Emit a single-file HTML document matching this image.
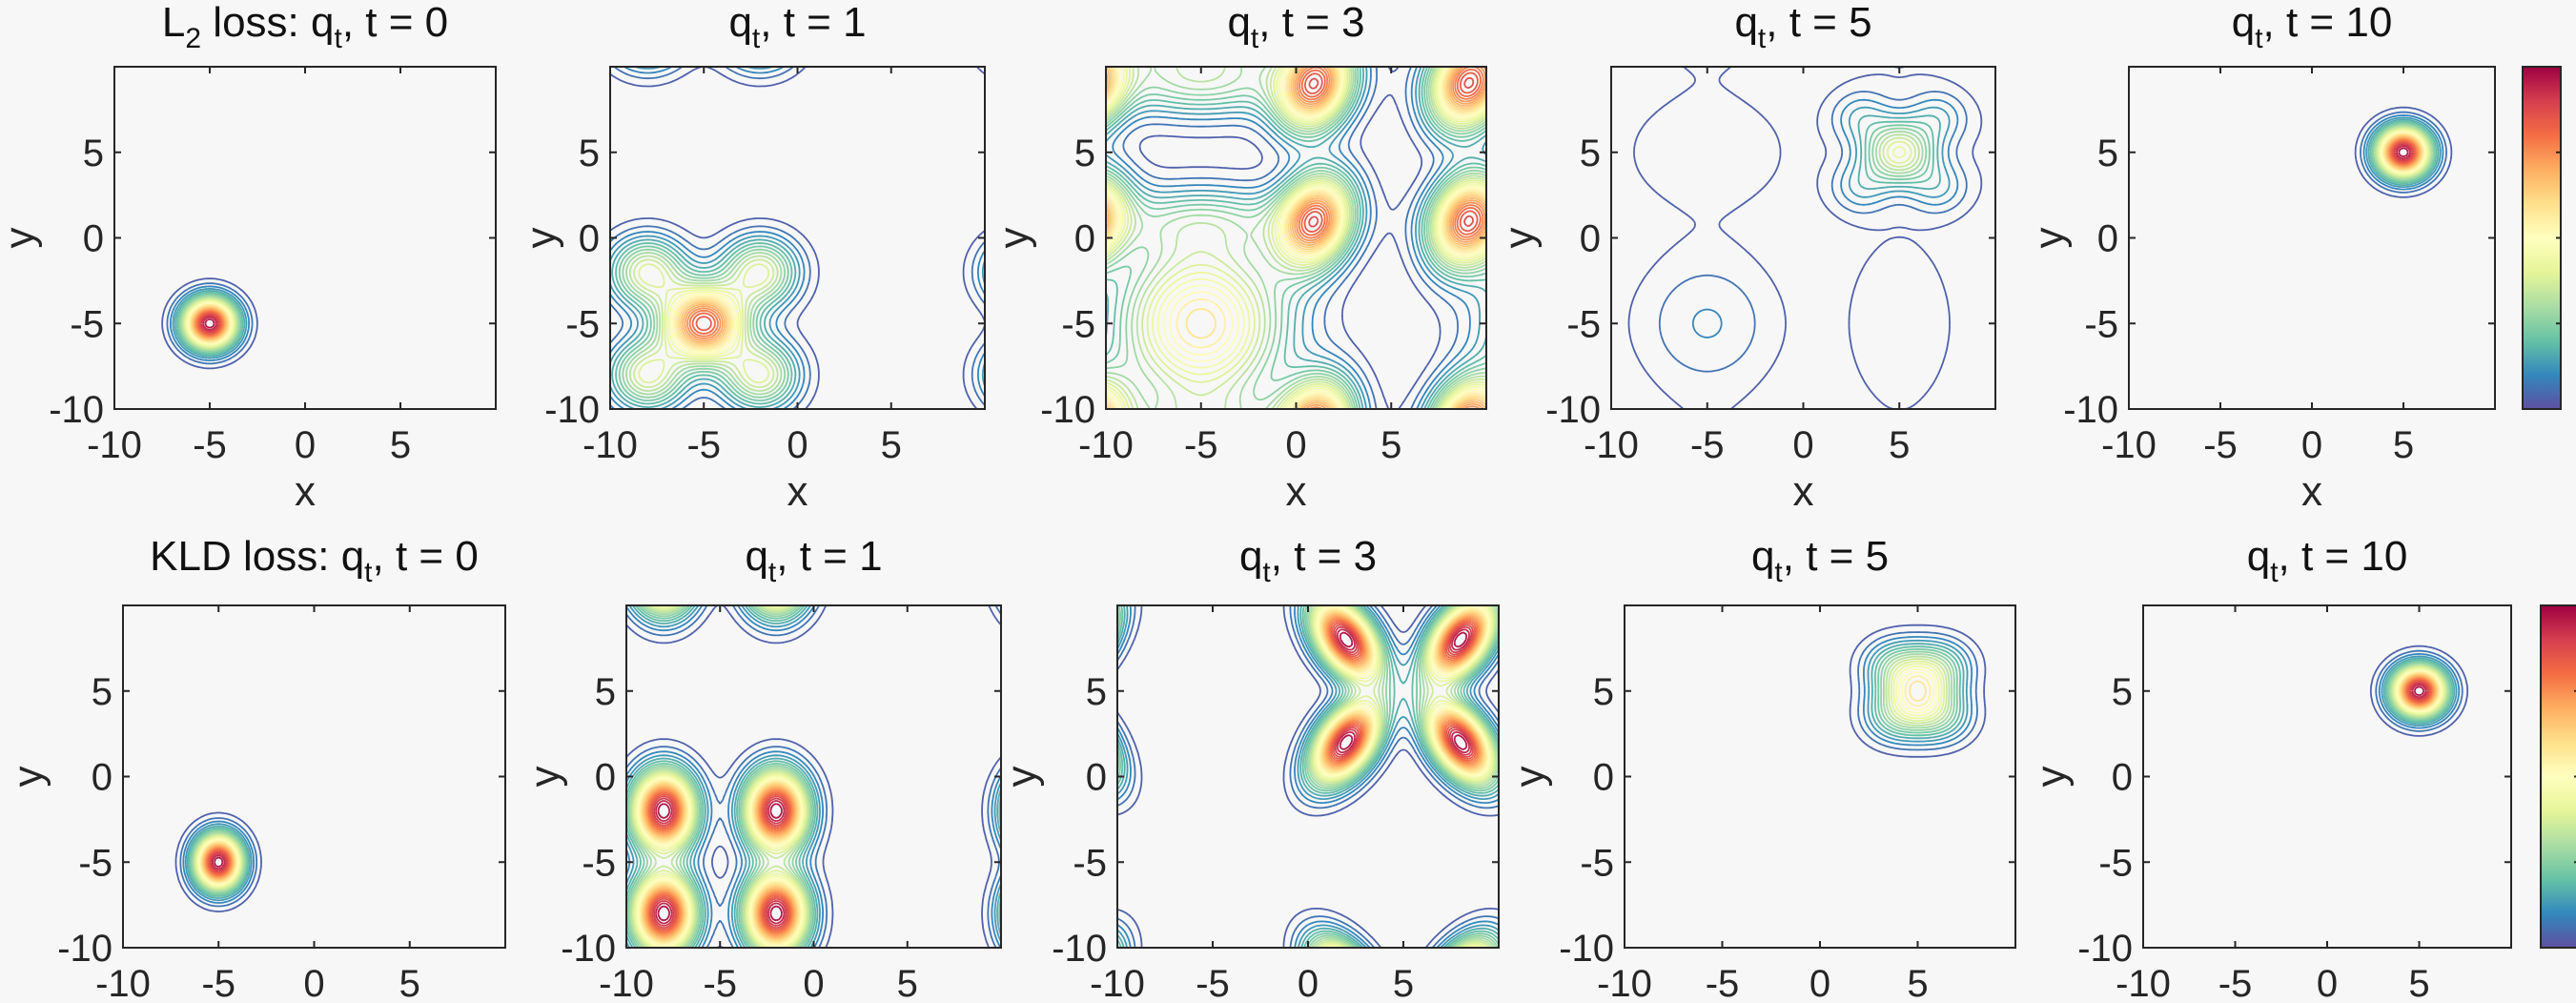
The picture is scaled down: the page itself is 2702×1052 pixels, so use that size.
<!DOCTYPE html>
<html><head><meta charset="utf-8">
<style>
html,body{margin:0;padding:0;background:#f7f7f7;}
svg{display:block;font-family:"Liberation Sans",Arial,sans-serif;}
</style></head>
<body>
<svg id="fig" width="2702" height="1052" viewBox="0 0 2702 1052" xmlns="http://www.w3.org/2000/svg">
<defs>
<linearGradient id="spec" x1="0" y1="1" x2="0" y2="0">
<stop offset="0" stop-color="#5e4fa2"/><stop offset="0.1" stop-color="#3288bd"/><stop offset="0.2" stop-color="#66c2a5"/><stop offset="0.3" stop-color="#abdda4"/><stop offset="0.4" stop-color="#e6f598"/><stop offset="0.5" stop-color="#ffffbf"/><stop offset="0.6" stop-color="#fee08b"/><stop offset="0.7" stop-color="#fdae61"/><stop offset="0.8" stop-color="#f46d43"/><stop offset="0.9" stop-color="#d53e4f"/><stop offset="1" stop-color="#9e0142"/>
</linearGradient>
</defs>
</svg>
<script>
// Data: gaussian components [cx, cy, sx, sy, angleDeg, amplitude]
const compsL2t0 = [[-5,-5,0.95,1.0,0,1]];
const compsL2t1 = [[-5,-5,1.5,1.5,0,0.85],[-8,-2,1.4,1.4,0,0.4],[-2,-2,1.4,1.4,0,0.4],[-8,-8,1.4,1.4,0,0.4],[-2,-8,1.4,1.4,0,0.4]];
const compsL2t3 = [[1,1,1.3,1.9,-15,0.8],[9,1,1.3,1.9,-15,0.8],[1,9,1.3,1.9,-15,0.8],[9,9,1.3,1.9,-15,0.8],[-5,-5,3.0,3.3,0,0.6],[-5,1,4,1.4,0,0.2],[-5,9,4,1.4,0,0.2]];
const compsL2t5 = [[5,5,1.2,1.2,0,0.4],[3,3,1.1,1.1,0,0.12],[7,3,1.1,1.1,0,0.12],[3,7,1.1,1.1,0,0.12],[7,7,1.1,1.1,0,0.12],[-5,-5,2.6,2.8,0,0.1],[-5,5,4,3.2,0,0.05],[5,-5,2.4,4.5,0,0.055]];
const compsL2t10 = [[5,5,1.0,1.0,0,1]];
const compsKLt0 = [[-5,-5,0.85,1.1,0,1]];
const compsKLt1 = [[-8,-2,1.15,1.6,0,1],[-2,-2,1.15,1.6,0,1],[-8,-8,1.15,1.6,0,1],[-2,-8,1.15,1.6,0,1]];
const compsKLt3 = [[2,2,1.0,1.8,-30,1],[8,2,1.0,1.8,30,1],[2,8,1.0,1.8,30,1],[8,8,1.0,1.8,-30,1]];
const compsKLt5 = [[5,5,1.2,1.5,0,0.5],[3.6,3.5,1.1,1.1,0,0.15],[6.4,3.5,1.1,1.1,0,0.15],[3.6,6.5,1.1,1.1,0,0.15],[6.4,6.5,1.1,1.1,0,0.15]];
const compsKLt10 = [[5,5,1.0,1.0,0,1]];
const titles = ["L2 loss:  q, t = 0","q, t = 1","q, t = 3","q, t = 5","q, t = 10","KLD loss:  q, t = 0","q, t = 1","q, t = 3","q, t = 5","q, t = 10"];
const tickVals = [-10,-5,0,5];
const tickLabels = ["-10","-5","0","5"];
const numLevels = 30;

const NS="http://www.w3.org/2000/svg";
const svg=document.getElementById('fig');
function mk(tag,attrs,parent){const e=document.createElementNS(NS,tag);for(const k in attrs)e.setAttribute(k,attrs[k]);(parent||svg).appendChild(e);return e;}

const panels=[
 {c:compsL2t0,x0:120,x1:520,y0:70,y1:429,per:false,yl:-99,xl:true},
 {c:compsL2t1,x0:640,x1:1033,y0:70,y1:429,per:true,yl:-72,xl:true},
 {c:compsL2t3,x0:1160,x1:1559,y0:70,y1:429,per:true,yl:-96,xl:true},
 {c:compsL2t5,x0:1690,x1:2093,y0:70,y1:429,per:true,yl:-96,xl:true},
 {c:compsL2t10,x0:2233,x1:2617,y0:70,y1:429,per:false,yl:-83,xl:true},
 {c:compsKLt0,x0:129,x1:530,y0:635,y1:994,per:false,yl:-99,xl:false},
 {c:compsKLt1,x0:657,x1:1050,y0:635,y1:994,per:true,yl:-85,xl:false},
 {c:compsKLt3,x0:1172,x1:1572,y0:635,y1:994,per:true,yl:-100,xl:false},
 {c:compsKLt5,x0:1704,x1:2114,y0:635,y1:994,per:false,yl:-99,xl:false},
 {c:compsKLt10,x0:2248,x1:2634,y0:635,y1:994,per:false,yl:-96,xl:false}
];
const stops=[[94,79,162],[50,136,189],[102,194,165],[171,221,164],[230,245,152],[255,255,191],[254,224,139],[253,174,97],[244,109,67],[213,62,79],[158,1,66]];
function cmap(t){t=Math.max(0,Math.min(1,t))*10;const i=Math.min(9,Math.floor(t)),f=t-i;const a=stops[i],b=stops[i+1];return 'rgb('+a.map((v,k)=>Math.round(v+(b[k]-v)*f)).join(',')+')';}
function density(comps,per,x,y){
 let s=0;const sh=per?[-20,0,20]:[0];
 for(const c of comps){const th=c[4]*Math.PI/180,co=Math.cos(th),si=Math.sin(th);
  for(const dx of sh)for(const dy of sh){const u=x-c[0]-dx,v=y-c[1]-dy;const a=u*co+v*si,b=-u*si+v*co;s+=c[5]*Math.exp(-0.5*(a*a/(c[2]*c[2])+b*b/(c[3]*c[3])));}}
 return s;}

panels.forEach((p,pi)=>{
 const g=mk('g',{});
 
 
 const sx=v=>p.x0+(v+10)/20*(p.x1-p.x0);
 const sy=v=>p.y1-(v+10)/20*(p.y1-p.y0);
 const cid='clip'+pi;
 const cp=mk('clipPath',{id:cid},g);mk('rect',{x:p.x0,y:p.y0,width:p.x1-p.x0,height:p.y1-p.y0},cp);
 const N=140,xs=[],F=[];
 for(let i=0;i<=N;i++)xs.push(-10+20*i/N);
 for(let j=0;j<=N;j++){F.push([]);for(let i=0;i<=N;i++)F[j].push(density(p.c,p.per,xs[i],xs[j]));}
 const cg=mk('g',{'clip-path':'url(#'+cid+')'},g);
 
 
 for(let k=1;k<=numLevels;k++){
  const L=k/(numLevels+1);let d='';
  for(let j=0;j<N;j++)for(let i=0;i<N;i++){
   const a=F[j][i],b=F[j][i+1],c=F[j+1][i+1],e=F[j+1][i];
   const pts=[];
   const ed=(v1,v2,x1,y1,x2,y2)=>{if((v1<L)!==(v2<L)){const t=(L-v1)/(v2-v1);pts.push([x1+(x2-x1)*t,y1+(y2-y1)*t]);}};
   ed(a,b,xs[i],xs[j],xs[i+1],xs[j]);ed(b,c,xs[i+1],xs[j],xs[i+1],xs[j+1]);
   ed(c,e,xs[i+1],xs[j+1],xs[i],xs[j+1]);ed(e,a,xs[i],xs[j+1],xs[i],xs[j]);
   for(let q=0;q+1<pts.length;q+=2)d+='M'+sx(pts[q][0]).toFixed(1)+' '+sy(pts[q][1]).toFixed(1)+'L'+sx(pts[q+1][0]).toFixed(1)+' '+sy(pts[q+1][1]).toFixed(1);
  }
  if(d){const path=mk('path',{d:d,fill:'none',stroke:cmap(L),'stroke-width':1.8},cg);
   
   }
 }
 const box=mk('rect',{x:p.x0,y:p.y0,width:p.x1-p.x0,height:p.y1-p.y0,fill:'none',stroke:'#262626','stroke-width':2},g);
 
 
 tickVals.forEach((v,ti)=>{
  const X=sx(v),Y=sy(v);
  mk('line',{x1:X,y1:p.y1,x2:X,y2:p.y1-7,stroke:'#262626','stroke-width':2},g);
  mk('line',{x1:X,y1:p.y0,x2:X,y2:p.y0+7,stroke:'#262626','stroke-width':2},g);
  mk('line',{x1:p.x0,y1:Y,x2:p.x0+7,y2:Y,stroke:'#262626','stroke-width':2},g);
  mk('line',{x1:p.x1,y1:Y,x2:p.x1-7,y2:Y,stroke:'#262626','stroke-width':2},g);
  const xt=mk('text',{x:X,y:p.y1+51,'font-size':40,'text-anchor':'middle',fill:'#262626'},g);xt.textContent=tickLabels[ti];
  
  
  const yt=mk('text',{x:p.x0-11,y:Y+14,'font-size':40,'text-anchor':'end',fill:'#262626'},g);yt.textContent=tickLabels[ti];
  
  
 });
 const yl=mk('text',{x:p.x0+p.yl,y:sy(0),'font-size':44,'text-anchor':'middle',fill:'#262626',transform:'rotate(-90 '+(p.x0+p.yl)+' '+sy(0)+') translate(0 14)'},g);yl.textContent='y';
 
 
 if(p.xl){const xl=mk('text',{x:(p.x0+p.x1)/2,y:530,'font-size':44,'text-anchor':'middle',fill:'#262626'},g);xl.textContent='x';
  
  }
 const tt=mk('text',{x:(p.x0+p.x1)/2,y:pi<5?38:598,'font-size':44,'text-anchor':'middle',fill:'#111'},g);
 
 
 const parts=titles[pi].split('q');
 let pre=parts[0];
 if(pi===0){const t1=mk('tspan',{},tt);t1.textContent='L';const t2=mk('tspan',{'font-size':30,dy:12},tt);t2.textContent='2';const t3=mk('tspan',{dy:-12},tt);t3.textContent=' loss:  ';}
 else if(pre){const t0=mk('tspan',{},tt);t0.textContent=pre;}
 const q=mk('tspan',{},tt);q.textContent='q';
 const sub=mk('tspan',{'font-size':30,dy:12},tt);sub.textContent='t';
 const rest=mk('tspan',{dy:-12},tt);rest.textContent=parts[1];
});
[[2646,70,40,359],[2665,635,40,359]].forEach((c,i)=>{
 const r=mk('rect',{x:c[0],y:c[1],width:c[2],height:c[3],fill:'url(#spec)',stroke:'#262626','stroke-width':2});
 
 
 [0.25,0.5,0.75].forEach(f=>mk('line',{x1:c[0]+c[2]-5,y1:c[1]+c[3]*f,x2:c[0]+c[2],y2:c[1]+c[3]*f,stroke:'#262626','stroke-width':2}));
});
</script>
</body></html>
